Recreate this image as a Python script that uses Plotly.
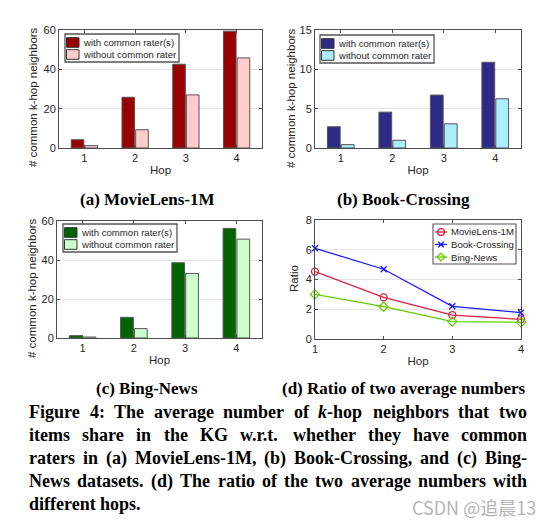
import re
import plotly.graph_objects as go

W, H = 552, 527

hops = [1, 2, 3, 4]

# (a) MovieLens-1M
movielens_with = [4.2, 25.8, 42.6, 59.4]
movielens_without = [1.2, 9.3, 27.0, 45.8]
# (b) Book-Crossing
book_with = [2.7, 4.56, 6.73, 10.9]
book_without = [0.43, 0.98, 3.07, 6.26]
# (c) Bing-News
bing_with = [1.2, 10.6, 38.6, 56.2]
bing_without = [0.5, 4.8, 33.1, 50.7]
# (d) ratio of the two averages
ratio_movielens = [4.53, 2.8, 1.61, 1.32]
ratio_book = [6.1, 4.69, 2.2, 1.77]
ratio_bing = [3.0, 2.17, 1.17, 1.12]

legend_labels = ["with common rater(s)", "without common rater"]
subtitles = ["(a) MovieLens-1M", "(b) Book-Crossing", "(c) Bing-News",
             "(d) Ratio of two average numbers"]
y_titles = ["# common k-hop neighbors"] * 3 + ["Ratio"]
caption_lines = [
    "Figure 4: The average number of <i>k</i>-hop neighbors that two",
    "items share in the KG w.r.t. whether they have common",
    "raters in (a) MovieLens-1M, (b) Book-Crossing, and (c) Bing-",
    "News datasets. (d) The ratio of the two average numbers with",
    "different hops.",
]
watermark = "CSDN @追晨13"


def px(x):
    return x / W


def py(y):
    return 1 - y / H


SANS = "Liberation Sans"
SERIF = "Liberation Serif"
INK = "#262626"
EDGE = "#4d4d4d"

fig = go.Figure()

bar_panels = [
    (movielens_with, movielens_without, "#990000", "#ffcccc"),
    (book_with, book_without, "#2f2a86", "#aaeeff"),
    (bing_with, bing_without, "#006400", "#ccffcc"),
]
for i, (with_vals, without_vals, c_with, c_without) in enumerate(bar_panels):
    sfx = "" if i == 0 else str(i + 1)
    for vals, color, name in [(with_vals, c_with, legend_labels[0]),
                              (without_vals, c_without, legend_labels[1])]:
        fig.add_trace(go.Bar(
            x=hops, y=vals, name=name, showlegend=False,
            marker=dict(color=color, line=dict(color="#555555", width=1)),
            xaxis="x" + sfx, yaxis="y" + sfx,
        ))

line_series = [
    (ratio_movielens, "MovieLens-1M", "#dc1e40", "circle-open", 7),
    (ratio_book, "Book-Crossing", "#1a1aff", "x-thin-open", 6),
    (ratio_bing, "Bing-News", "#66cc00", "diamond-open", 7),
]
for vals, name, color, symbol, size in line_series:
    fig.add_trace(go.Scatter(
        x=hops, y=vals, name=name, mode="lines+markers", showlegend=False,
        line=dict(color=color, width=1.3),
        marker=dict(symbol=symbol, size=size, color=color,
                    line=dict(color=color, width=1.3)),
        cliponaxis=False, xaxis="x4", yaxis="y4",
    ))

# axes boxes in pixels: left, right, top, bottom
boxes = [(59, 262, 30, 148), (315, 521, 30, 148),
         (57, 262, 221, 338), (315, 521, 220, 339)]
y_ranges = [(60, 20), (15, 5), (60, 20), (8, 2)]

common = dict(showline=True, linecolor=EDGE, linewidth=1, mirror="ticks",
              ticks="inside", ticklen=3, tickcolor=EDGE, zeroline=False,
              automargin=False,
              tickfont=dict(family=SANS, size=11, color=INK))
layout_axes = {}
for i, (l, r, t, b) in enumerate(boxes):
    sfx = "" if i == 0 else str(i + 1)
    xr = [1, 4] if i == 3 else [0.5, 4.5]
    layout_axes["xaxis" + sfx] = dict(
        common, domain=[px(l), px(r)], anchor="y" + sfx, range=xr,
        tickvals=hops, showgrid=False,
        title=dict(text="Hop", font=dict(family=SANS, size=11.5, color=INK),
                   standoff=2),
    )
    ymax, step = y_ranges[i]
    layout_axes["yaxis" + sfx] = dict(
        common, domain=[py(b), py(t)], anchor="x" + sfx, range=[0, ymax],
        dtick=step, showgrid=True, gridcolor="#e3e3e3", gridwidth=1,
    )

shapes = []
annotations = []


def rect(x0, x1, y0, y1, line_color, fill, width=1):
    return dict(type="rect", xref="paper", yref="paper",
                x0=px(x0), x1=px(x1), y0=py(y0), y1=py(y1),
                line=dict(color=line_color, width=width), fillcolor=fill)


def label(text, x, y, size=9.6):
    return dict(text=text, x=px(x), y=py(y), xref="paper", yref="paper",
                xanchor="left", yanchor="middle", showarrow=False,
                font=dict(family=SANS, size=size, color=INK))


# y-axis titles, placed where the reference has them
ytitle_pos = [(33, 97), (291, 98), (32, 288), (294, 279)]
for text, (x, y) in zip(y_titles, ytitle_pos):
    annotations.append(dict(text=text, x=px(x), y=py(y), xref="paper", yref="paper",
                            xanchor="center", yanchor="middle", textangle=-90,
                            showarrow=False,
                            font=dict(family=SANS, size=11.5, color=INK)))

# legends of the bar panels
legend_boxes = [(65, 34), (320, 35), (63, 224)]
for (bx, by), (_, _, c_with, c_without) in zip(legend_boxes, bar_panels):
    shapes.append(rect(bx, bx + 114, by, by + 28, "#555555", "white", 1.3))
    for row, (color, text) in enumerate(zip([c_with, c_without], legend_labels)):
        cy = by + 8.5 + row * 12
        shapes.append(rect(bx + 1.5, bx + 14, cy - 4.8, cy + 4.8, "#333333", color))
        annotations.append(label(text, bx + 16, cy))

# legend of the ratio panel
lx, ly = 433, 224
shapes.append(rect(lx, lx + 83, ly, ly + 40, "#555555", "white", 1.1))
for row, (_, name, color, symbol, _) in enumerate(line_series):
    cy = ly + 8 + row * 12.5
    cx = lx + 8
    shapes.append(dict(type="line", xref="paper", yref="paper",
                       x0=px(lx + 2), x1=px(lx + 14), y0=py(cy), y1=py(cy),
                       line=dict(color=color, width=1.3)))
    r = 3.4
    if symbol.startswith("circle"):
        shapes.append(dict(type="circle", xref="paper", yref="paper",
                           x0=px(cx - r), x1=px(cx + r), y0=py(cy - r), y1=py(cy + r),
                           line=dict(color=color, width=1.3)))
    elif symbol.startswith("x"):
        path = (f"M{px(cx - 2.8)},{py(cy - 2.8)}L{px(cx + 2.8)},{py(cy + 2.8)}"
                f"M{px(cx - 2.8)},{py(cy + 2.8)}L{px(cx + 2.8)},{py(cy - 2.8)}")
        shapes.append(dict(type="path", xref="paper", yref="paper", path=path,
                           line=dict(color=color, width=1.3)))
    else:
        path = (f"M{px(cx)},{py(cy - 3.9)}L{px(cx + 3.9)},{py(cy)}"
                f"L{px(cx)},{py(cy + 3.9)}L{px(cx - 3.9)},{py(cy)}Z")
        shapes.append(dict(type="path", xref="paper", yref="paper", path=path,
                           line=dict(color=color, width=1.3)))
    annotations.append(label(name, lx + 16, cy))

# sub-figure captions
sub_pos = [(147, 199), (403, 199), (147, 388), (404, 388)]
for text, (x, y) in zip(subtitles, sub_pos):
    annotations.append(dict(text=text, x=px(x), y=py(y), xref="paper", yref="paper",
                            xanchor="center", yanchor="middle", showarrow=False,
                            font=dict(family=SERIF, size=17, color="black",
                                      weight="bold")))

# justified figure caption, laid out word by word with Times-Bold metrics
TIMES_BOLD = {
    "a": 500, "b": 556, "c": 444, "d": 556, "e": 444, "f": 333, "g": 500,
    "h": 556, "i": 278, "k": 556, "l": 278, "m": 833, "n": 556, "o": 500,
    "p": 556, "r": 444, "s": 389, "t": 333, "u": 556, "v": 500, "w": 722,
    "y": 500, "B": 667, "C": 722, "F": 611, "G": 778, "K": 778, "L": 667,
    "M": 944, "N": 722, "T": 667, "1": 500, "4": 500, ":": 333, ".": 250,
    ",": 250, "(": 333, ")": 333, "-": 333,
}
cap_size = 18
cap_left, cap_right = 27, 525
cap_font = dict(family=SERIF, size=cap_size, color="black", weight="bold")
for row, line in enumerate(caption_lines):
    words = line.split(" ")
    widths = [sum(TIMES_BOLD.get(ch, 500) for ch in re.sub("<[^>]+>", "", w))
              * cap_size / 1000 for w in words]
    if row < len(caption_lines) - 1:
        gap = (cap_right - cap_left - sum(widths)) / (len(words) - 1)
    else:
        gap = 0.25 * cap_size
    x = cap_left
    y = 412 + row * 23
    for w, wd in zip(words, widths):
        annotations.append(dict(text=w, x=px(x), y=py(y), xref="paper", yref="paper",
                                xanchor="left", yanchor="middle", showarrow=False,
                                font=cap_font))
        x += wd + gap

annotations.append(dict(text=watermark, x=px(538), y=py(507), xref="paper",
                        yref="paper", xanchor="right", yanchor="middle",
                        showarrow=False,
                        font=dict(family="Noto Sans CJK SC", size=18, color="#b5b5b5")))

fig.update_layout(
    width=W, height=H, margin=dict(l=0, r=0, t=0, b=0),
    paper_bgcolor="white", plot_bgcolor="white",
    font=dict(family=SANS, size=11, color=INK),
    barmode="group", bargap=0.46, bargroupgap=0.08,
    showlegend=False,
    shapes=shapes, annotations=annotations,
    **layout_axes,
)

fig.write_html("out.html", config={"displayModeBar": False},
               post_script="document.body.style.margin = '0';")
